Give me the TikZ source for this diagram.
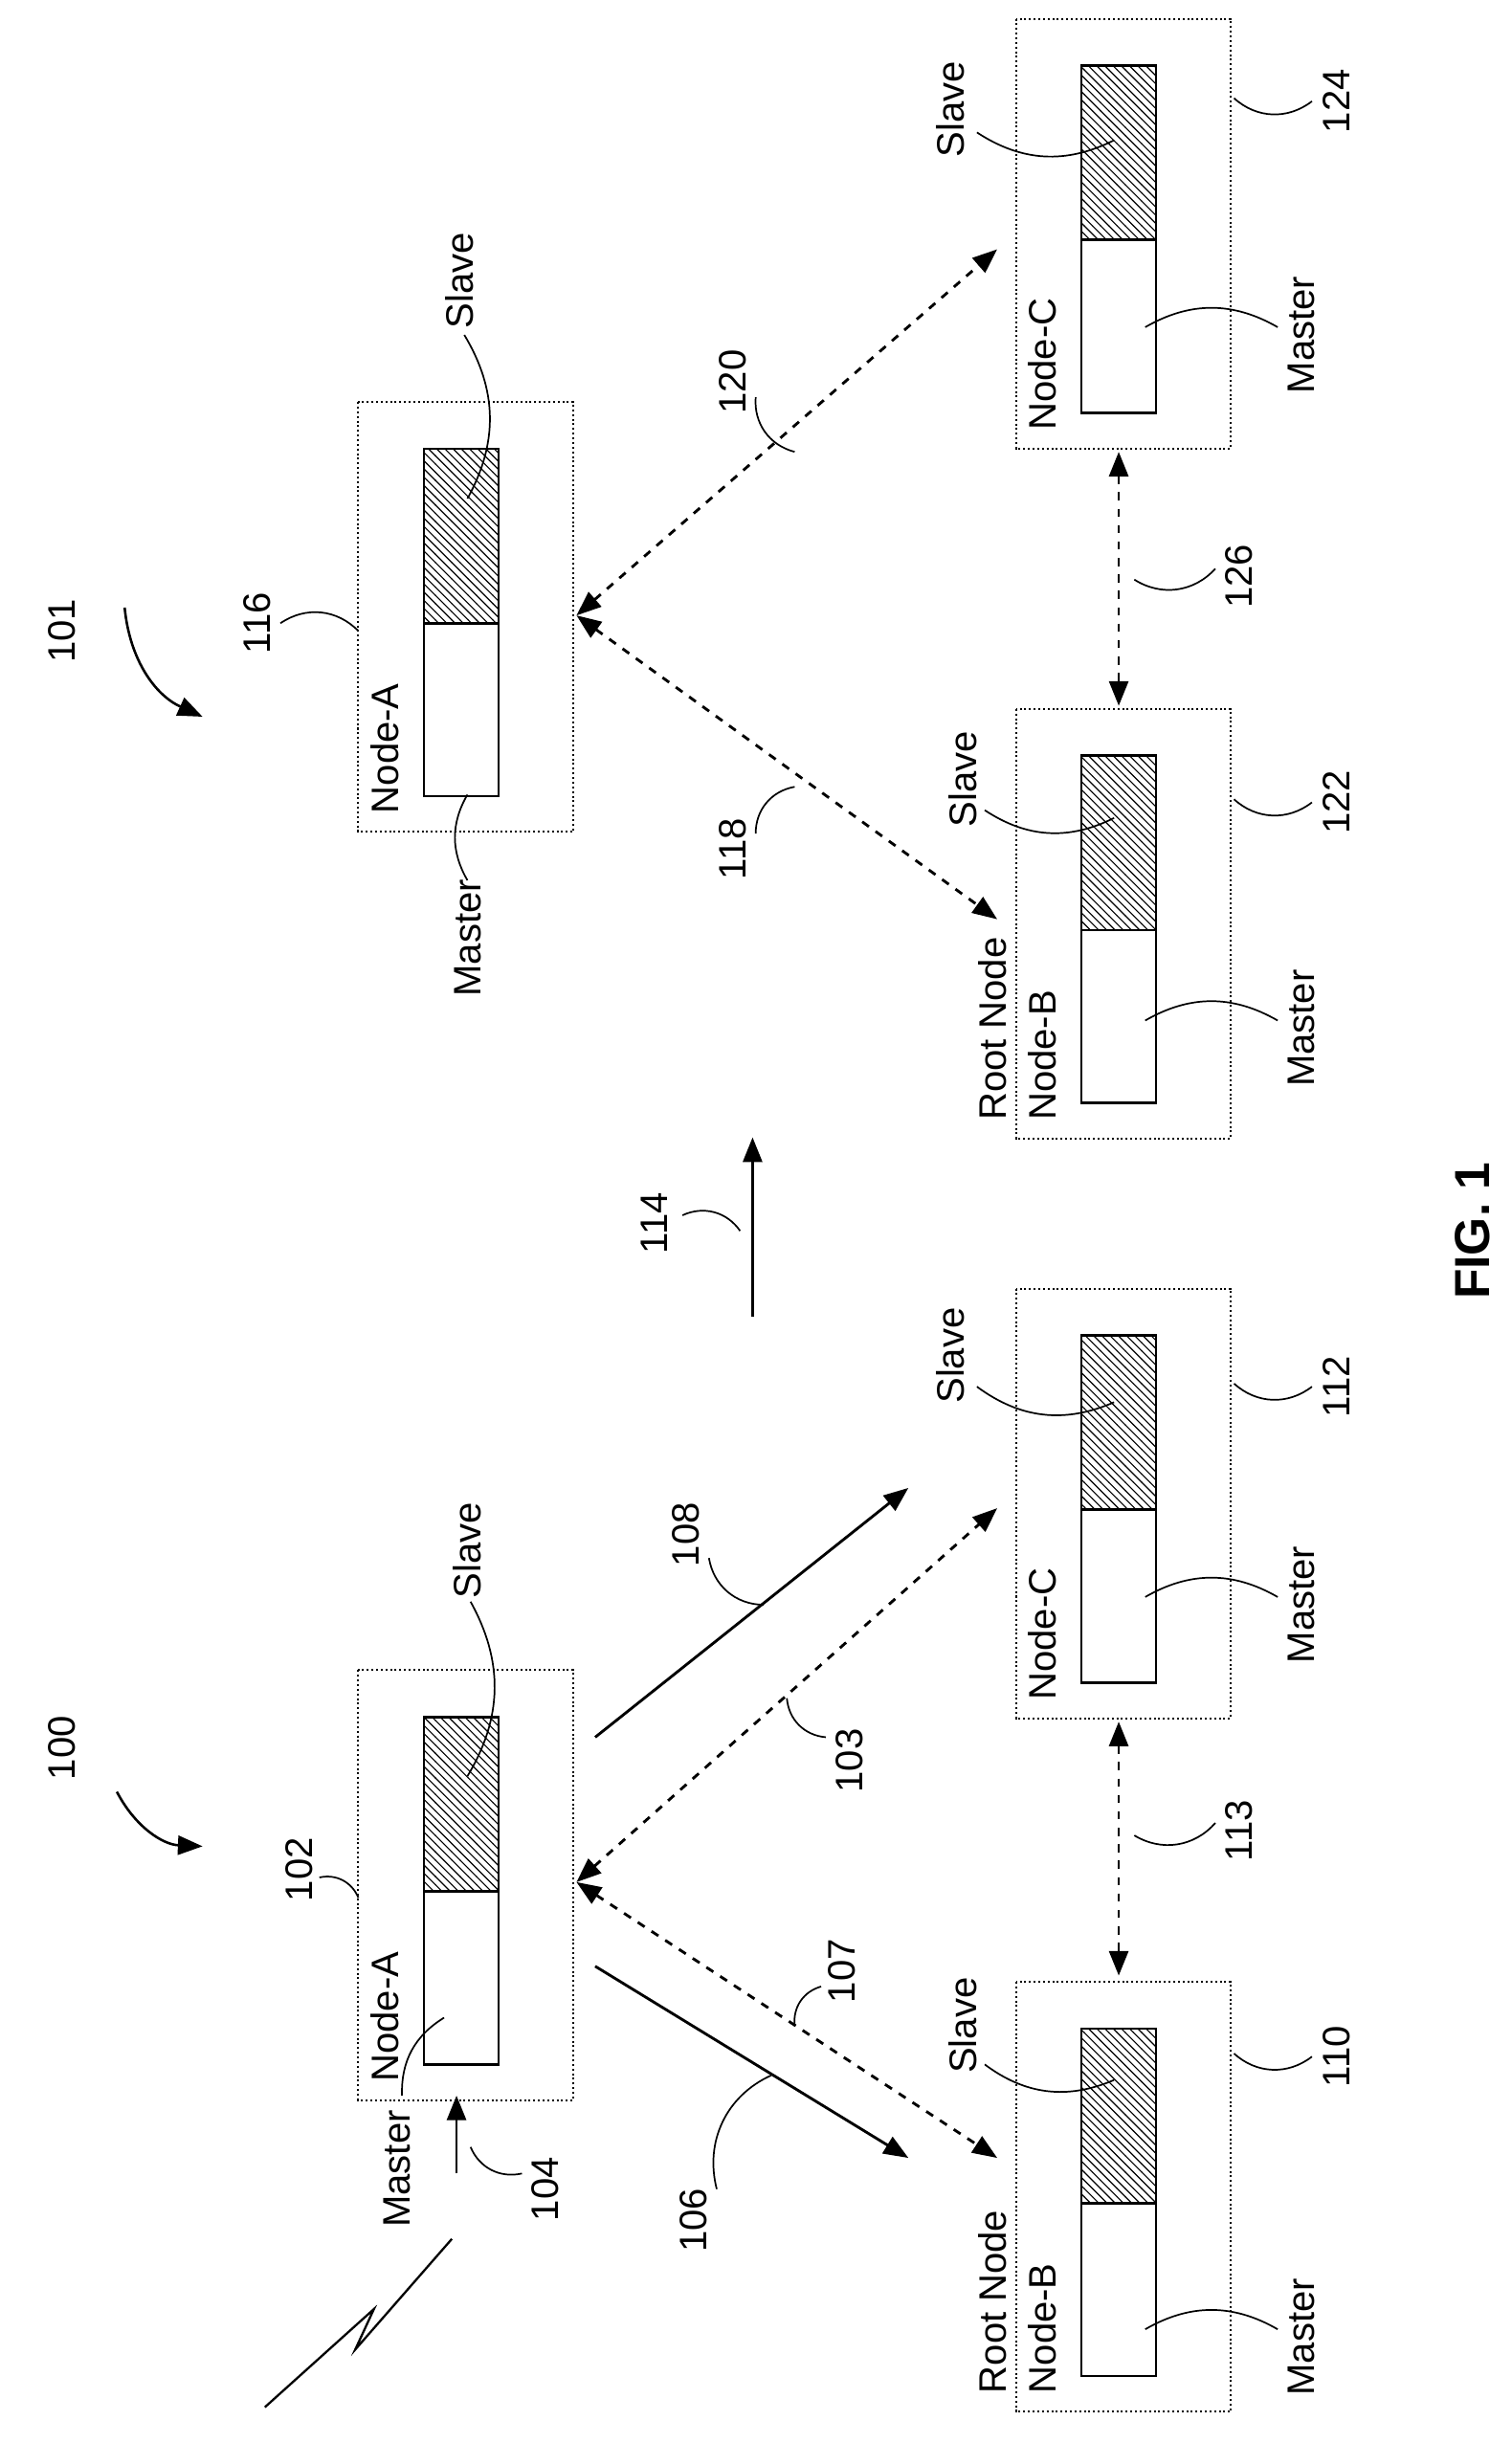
\documentclass[tikz,border=0pt]{standalone}
\usepackage{fontspec}
\setmainfont{Liberation Sans}
\usetikzlibrary{arrows.meta,patterns,calc}
\begin{document}
\begin{tikzpicture}[x=0.02cm,y=-0.02cm,
  dbox/.style={draw,densely dotted,line width=0.7pt},
  ibox/.style={draw,line width=0.9pt},
  hatch/.style={pattern=north west lines},
  lbl/.style={rotate=90,font=\fontsize{14}{16}\selectfont},
  lead/.style={line width=0.6pt},
  dash2/.style={dashed,line width=1pt,{Triangle[length=9pt,width=7pt]}-{Triangle[length=9pt,width=7pt]}},
  solid1/.style={line width=1pt,-{Triangle[length=9pt,width=7pt]}}]
\useasboundingbox (0,0) rectangle (970,1568);
\newcommand\mybox[4]{% x0, ytop, name, nodelabel
  \draw[dbox] (#1,#2) rectangle ++(138,276);
  \fill[hatch] (#1+42,#2+30) rectangle (#1+90,#2+142);
  \draw[ibox] (#1+42,#2+30) rectangle (#1+90,#2+253);
  \draw[ibox] (#1+42,#2+142) -- (#1+90,#2+142);
  \coordinate (#3) at (#1,#2+138);
  \node[lbl,anchor=north west,inner sep=2pt] at (#1+4,#2+268) {#4};
}
\mybox{230}{1072}{a1}{Node-A}
\mybox{652}{1272}{b1}{Node-B}
\mybox{652}{827}{c1}{Node-C}
\mybox{230}{258}{a2}{Node-A}
\mybox{652}{455}{b2}{Node-B}
\mybox{652}{12}{c2}{Node-C}
\node[lbl,anchor=south west,inner sep=2pt] at (650,1540) {Root Node};
\node[lbl,anchor=south west,inner sep=2pt] at (650,723) {Root Node};
\coordinate (a1r) at (370,1208);
\coordinate (a2r) at (370,395);
\draw[dash2] (a1r) -- (640,1385);
\draw[dash2] (a1r) -- (640,968);
\draw[solid1] (382,1262) -- (583,1385);
\draw[solid1] (382,1115) -- (583,955);
\draw[dash2] (718,1105) -- (718,1268);
\draw[dash2] (a2r) -- (640,590);
\draw[dash2] (a2r) -- (640,160);
\draw[dash2] (718,290) -- (718,453);
\draw[solid1] (483,845) -- (483,730);
\draw[solid1] (293,1395) -- (293,1345);
% lightning
\draw[line width=0.8pt] (170,1545) -- (240,1482) -- (228,1508) -- (290,1437);
\draw[line width=0.9pt,-{Triangle[length=9pt,width=7pt]}] (75,1150) to[bend right=30] (130,1185);
\draw[line width=0.9pt,-{Triangle[length=9pt,width=7pt]}] (80,390) to[bend right=30] (130,460);
\node[lbl] at (40,1122) {100};
\node[lbl] at (40,405) {101};
\node[lbl] at (192,1200) {102}; \draw[lead] (205,1205) to[bend left=40] (230,1218);
\node[lbl] at (165,400) {116}; \draw[lead] (180,400) to[bend left=40] (230,405);
\node[lbl] at (350,1405) {104}; \draw[lead] (335,1395) to[bend left=40] (302,1378);
\node[lbl] at (445,1425) {106}; \draw[lead] (460,1405) to[bend left=40] (495,1332);
\node[lbl] at (540,1265) {107}; \draw[lead] (527,1275) to[bend right=40] (510,1300);
\node[lbl] at (440,985) {108}; \draw[lead] (455,1000) to[bend right=40] (490,1030);
\node[lbl] at (545,1130) {103}; \draw[lead] (530,1115) to[bend left=40] (505,1090);
\node[lbl] at (795,1175) {113}; \draw[lead] (780,1170) to[bend left=40] (728,1178);
\node[lbl] at (795,370) {126}; \draw[lead] (780,365) to[bend left=40] (728,372);
\node[lbl] at (420,785) {114}; \draw[lead] (438,780) to[bend left=40] (475,790);
\node[lbl] at (470,545) {118}; \draw[lead] (485,535) to[bend left=40] (510,505);
\node[lbl] at (470,245) {120}; \draw[lead] (485,255) to[bend right=40] (510,290);
\node[lbl] at (858,1320) {110}; \draw[lead] (842,1320) to[bend left=40] (792,1318);
\node[lbl] at (858,890) {112}; \draw[lead] (842,890) to[bend left=40] (792,888);
\node[lbl] at (858,515) {122}; \draw[lead] (842,515) to[bend left=40] (792,513);
\node[lbl] at (858,65) {124}; \draw[lead] (842,65) to[bend left=40] (792,63);
\node[lbl] at (300,995) {Slave}; \draw[lead] (302,1028) to[bend left=30] (300,1140);
\node[lbl] at (255,1392) {Master}; \draw[lead] (258,1345) to[bend left=30] (285,1295);
\node[lbl] at (295,180) {Slave}; \draw[lead] (298,215) to[bend left=30] (300,320);
\node[lbl] at (300,602) {Master}; \draw[lead] (300,565) to[bend left=30] (300,510);
\node[lbl] at (618,1300) {Slave}; \draw[lead] (632,1325) to[bend right=30] (715,1335);
\node[lbl] at (835,1500) {Master}; \draw[lead] (820,1495) to[bend right=30] (735,1495);
\node[lbl] at (610,870) {Slave}; \draw[lead] (627,890) to[bend right=30] (715,900);
\node[lbl] at (835,1030) {Master}; \draw[lead] (820,1025) to[bend right=30] (735,1025);
\node[lbl] at (618,500) {Slave}; \draw[lead] (632,520) to[bend right=30] (715,525);
\node[lbl] at (835,660) {Master}; \draw[lead] (820,655) to[bend right=30] (735,655);
\node[lbl] at (610,70) {Slave}; \draw[lead] (627,85) to[bend right=30] (715,90);
\node[lbl] at (835,215) {Master}; \draw[lead] (820,210) to[bend right=30] (735,210);
\node[lbl,font=\bfseries\fontsize{18}{20}\selectfont] at (945,790) {FIG. 1};
\end{tikzpicture}
\end{document}
